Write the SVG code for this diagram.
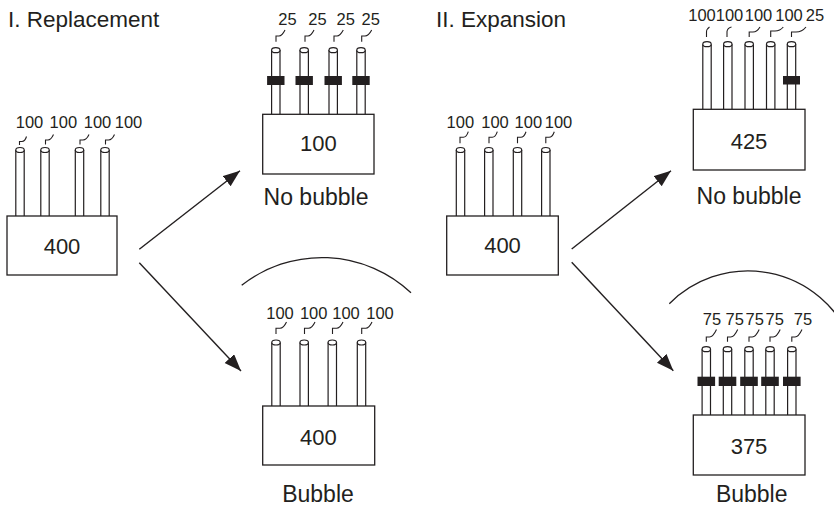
<svg xmlns="http://www.w3.org/2000/svg" width="834" height="508" viewBox="0 0 834 508">
<style>
text { font-family: "Liberation Sans", Arial, sans-serif; fill: #231f20; text-anchor: middle; }
.title { font-size: 22.5px; text-anchor: start; }
.cap { font-size: 23px; }
.val { font-size: 22px; }
.lbl { font-size: 16.5px; }
.box { fill: #fff; stroke: #231f20; stroke-width: 1.3; }
.tube { fill: none; stroke: #231f20; stroke-width: 1.2; }
.top { fill: #fff; stroke: #231f20; stroke-width: 1.2; }
.band { fill: #231f20; }
.lead { fill: none; stroke: #231f20; stroke-width: 1.1; }
.arc { fill: none; stroke: #231f20; stroke-width: 1.3; }
.conn { fill: none; stroke: #231f20; stroke-width: 1.4; marker-end: url(#ah); }
</style>
<defs>
<marker id="ah" markerUnits="userSpaceOnUse" markerWidth="18" markerHeight="14" refX="17" refY="6.5" orient="auto">
<path d="M0,0 L17,6.5 L0,13 z" fill="#231f20"/>
</marker>
</defs>
<rect width="834" height="508" fill="#fff"/>

<text class="title" x="8" y="27.3">I. Replacement</text>
<text class="title" x="436" y="27.3">II. Expansion</text>

<g id="node-i-400">
<path class="tube" d="M15.8,150V216M24.2,150V216M40.8,150V216M49.2,150V216M75.3,150V216M83.7,150V216M100.8,150V216M109.2,150V216"/>
<ellipse class="top" cx="20" cy="150" rx="4.2" ry="2.5"/>
<ellipse class="top" cx="45" cy="150" rx="4.2" ry="2.5"/>
<ellipse class="top" cx="79.5" cy="150" rx="4.2" ry="2.5"/>
<ellipse class="top" cx="105" cy="150" rx="4.2" ry="2.5"/>
<path class="lead" d="M19.5,145V141.5H22Q25,141.5 26.5,136.5M45.5,144.5V140H48Q51,140 53.5,134.5M80,144.5V140H83Q86.5,140 89,134.5M105.5,144.5V140H108.5Q112,140 114.5,134.5"/>
<rect class="box" x="7" y="216" width="110" height="59"/>
<text class="val" x="62" y="254">400</text>
<text class="lbl" x="29.5" y="128.3">100</text>
<text class="lbl" x="63.3" y="128.3">100</text>
<text class="lbl" x="97.5" y="128.3">100</text>
<text class="lbl" x="128.5" y="128.3">100</text>
</g>

<g id="node-i-nobubble">
<path class="tube" d="M271.6,50V114M280,50V114M300,50V114M308.4,50V114M329,50V114M337.4,50V114M356.8,50V114M365.2,50V114"/>
<ellipse class="top" cx="275.8" cy="50.2" rx="4.2" ry="2.5"/>
<ellipse class="top" cx="304.2" cy="50.2" rx="4.2" ry="2.5"/>
<ellipse class="top" cx="333.2" cy="50.2" rx="4.2" ry="2.5"/>
<ellipse class="top" cx="361" cy="50.2" rx="4.2" ry="2.5"/>
<rect class="band" x="267.1" y="76" width="17.4" height="9"/>
<rect class="band" x="295.5" y="76" width="17.4" height="9"/>
<rect class="band" x="324.5" y="76" width="17.4" height="9"/>
<rect class="band" x="352.3" y="76" width="17.4" height="9"/>
<path class="lead" d="M276,41.7V36H279Q282,36 285,30M305,41.7V36H308Q311,36 314,30M334,41.7V36H337Q340,36 343.3,30M361.7,41.7V36H365Q368.5,36 371.7,30"/>
<rect class="box" x="262.7" y="114.3" width="111.3" height="59.7"/>
<text class="val" x="318.3" y="151">100</text>
<text class="lbl" x="287.5" y="25">25</text>
<text class="lbl" x="317.5" y="25">25</text>
<text class="lbl" x="345.8" y="25">25</text>
<text class="lbl" x="370.8" y="25">25</text>
<text class="cap" x="316" y="205">No bubble</text>
</g>

<g id="node-i-bubble">
<path class="arc" d="M241.7,285.3 A130,130 0 0 1 411,292.8"/>
<path class="tube" d="M271.8,342.5V406M280.2,342.5V406M300,342.5V406M308.4,342.5V406M328.1,342.5V406M336.5,342.5V406M357.3,342.5V406M365.7,342.5V406"/>
<ellipse class="top" cx="276" cy="342.5" rx="4.2" ry="2.5"/>
<ellipse class="top" cx="304.2" cy="342.5" rx="4.2" ry="2.5"/>
<ellipse class="top" cx="332.3" cy="342.5" rx="4.2" ry="2.5"/>
<ellipse class="top" cx="361.5" cy="342.5" rx="4.2" ry="2.5"/>
<path class="lead" d="M276,334V328.3H280Q283.5,328.3 286.5,322M304.5,334V328.3H308.5Q312,328.3 315,322M332.5,334V328.3H336.5Q340,328.3 343,322M361.7,334V328.3H365.7Q369,328.3 372,322"/>
<rect class="box" x="262.7" y="406" width="112" height="59"/>
<text class="val" x="318.3" y="445">400</text>
<text class="lbl" x="280" y="319.3">100</text>
<text class="lbl" x="313.7" y="319.3">100</text>
<text class="lbl" x="346" y="319.3">100</text>
<text class="lbl" x="380" y="319.3">100</text>
<text class="cap" x="318" y="502">Bubble</text>
</g>

<g id="node-ii-400">
<path class="tube" d="M456.3,150V216M464.7,150V216M484.6,150V216M493,150V216M513.3,150V216M521.7,150V216M541.6,150V216M550,150V216"/>
<ellipse class="top" cx="460.5" cy="150" rx="4.2" ry="2.5"/>
<ellipse class="top" cx="488.8" cy="150" rx="4.2" ry="2.5"/>
<ellipse class="top" cx="517.5" cy="150" rx="4.2" ry="2.5"/>
<ellipse class="top" cx="545.8" cy="150" rx="4.2" ry="2.5"/>
<path class="lead" d="M460,143.3V137.3H463.3Q466.5,137.3 468.3,131.7M489,143.3V137.3H492.3Q495.5,137.3 497.3,131.7M517.5,143.3V137.3H520.8Q524,137.3 526,131.7M545.8,143.3V137.3H549Q552.3,137.3 554.3,131.7"/>
<rect class="box" x="446.7" y="216" width="111.6" height="59"/>
<text class="val" x="502.5" y="253.3">400</text>
<text class="lbl" x="460.3" y="128.3">100</text>
<text class="lbl" x="495" y="128.3">100</text>
<text class="lbl" x="528.3" y="128.3">100</text>
<text class="lbl" x="558.5" y="128.3">100</text>
</g>

<g id="node-ii-nobubble">
<path class="tube" d="M702.8,44.2V109.3M711.2,44.2V109.3M723.6,44.2V109.3M732,44.2V109.3M745,44.2V109.3M753.4,44.2V109.3M766.5,44.2V109.3M774.9,44.2V109.3M787.3,44.2V109.3M795.7,44.2V109.3"/>
<ellipse class="top" cx="707" cy="44.2" rx="4.2" ry="2.5"/>
<ellipse class="top" cx="727.8" cy="44.2" rx="4.2" ry="2.5"/>
<ellipse class="top" cx="749.2" cy="44.2" rx="4.2" ry="2.5"/>
<ellipse class="top" cx="770.7" cy="44.2" rx="4.2" ry="2.5"/>
<ellipse class="top" cx="791.5" cy="44.2" rx="4.2" ry="2.5"/>
<rect class="band" x="783" y="76" width="17" height="8.5"/>
<path class="lead" d="M706.5,37V32Q706.5,29 709.5,27M727,37V31.5Q727.5,28 731.5,27M749.2,37V32H753Q757,32 760,27M770.7,37V31H775Q780,31 783.3,27M791.5,37V32H796Q802,32 806,27"/>
<rect class="box" x="693.3" y="109.3" width="111.7" height="60.7"/>
<text class="val" x="749" y="149.3">425</text>
<text class="lbl" x="702" y="20.7">100</text>
<text class="lbl" x="729.5" y="20.7">100</text>
<text class="lbl" x="758.5" y="20.7">100</text>
<text class="lbl" x="789" y="20.7">100</text>
<text class="lbl" x="815" y="20.7">25</text>
<text class="cap" x="749" y="204">No bubble</text>
</g>

<g id="node-ii-bubble">
<path class="arc" d="M669.3,303.7 A111,111 0 0 1 850,338"/>
<path class="tube" d="M702.1,349.2V415M710.5,349.2V415M723.3,349.2V415M731.7,349.2V415M744.8,349.2V415M753.2,349.2V415M765.8,349.2V415M774.2,349.2V415M787.6,349.2V415M796,349.2V415"/>
<ellipse class="top" cx="706.3" cy="349.2" rx="4.2" ry="2.5"/>
<ellipse class="top" cx="727.5" cy="349.2" rx="4.2" ry="2.5"/>
<ellipse class="top" cx="749" cy="349.2" rx="4.2" ry="2.5"/>
<ellipse class="top" cx="770" cy="349.2" rx="4.2" ry="2.5"/>
<ellipse class="top" cx="791.8" cy="349.2" rx="4.2" ry="2.5"/>
<rect class="band" x="697.5" y="376.7" width="17.6" height="9.3"/>
<rect class="band" x="718.7" y="376.7" width="17.6" height="9.3"/>
<rect class="band" x="740.2" y="376.7" width="17.6" height="9.3"/>
<rect class="band" x="761.2" y="376.7" width="17.6" height="9.3"/>
<rect class="band" x="783" y="376.7" width="17.6" height="9.3"/>
<path class="lead" d="M706.3,341.7V337H709.5Q713,337 716.5,329.5M727.5,341.7V337H730.7Q734.2,337 737.7,329.5M749,341.7V337H752.2Q755.7,337 759.2,329.5M770,341.7V337H773.2Q776.7,337 780.2,329.5M791.8,341.7V337H795Q798.5,337 802,329.5"/>
<rect class="box" x="693.3" y="415" width="111.7" height="60"/>
<text class="val" x="749" y="454">375</text>
<text class="lbl" x="712" y="325">75</text>
<text class="lbl" x="734.7" y="325">75</text>
<text class="lbl" x="754.7" y="325">75</text>
<text class="lbl" x="774.7" y="325">75</text>
<text class="lbl" x="803" y="325">75</text>
<text class="cap" x="751.7" y="502">Bubble</text>
</g>

<g id="connectors">
<path class="conn" d="M139.3,249.3 L240,170.7"/>
<path class="conn" d="M139.3,262.7 L241,371"/>
<path class="conn" d="M571.7,249 L671,170.7"/>
<path class="conn" d="M571.7,262.3 L673.3,370.7"/>
</g>
</svg>
